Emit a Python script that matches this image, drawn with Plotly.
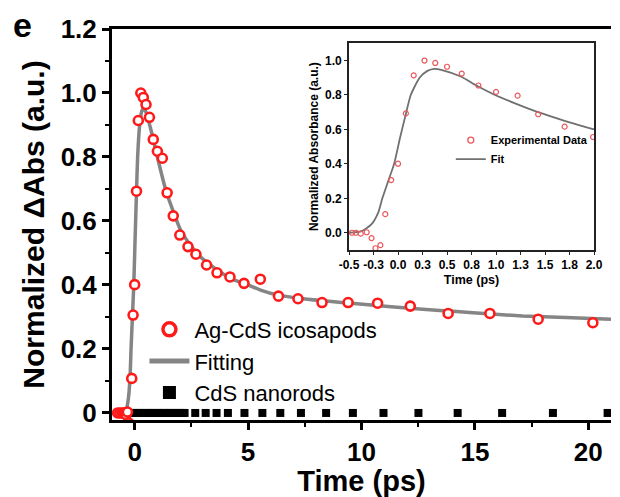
import plotly.graph_objects as go

# ---------------- data ----------------
t_ag = [-0.75, -0.65, -0.55, -0.47, -0.43, -0.38, -0.32, -0.27, -0.23, -0.18,
        -0.13, -0.07, 0.0, 0.08, 0.16, 0.27, 0.38, 0.50, 0.65, 0.82,
        1.00, 1.22, 1.43, 1.70, 1.99, 2.35, 2.70, 3.17, 3.63, 4.20,
        4.82, 5.54, 6.34, 7.20, 8.26, 9.41, 10.71, 12.15, 13.82, 15.66,
        17.79, 20.20]
v_ag = [0.0, 0.0, 0.0, 0.0, 0.0, -0.005, 0.003, -0.031, -0.09, -0.072,
        0.108, 0.306, 0.401, 0.693, 0.914, 1.0, 0.986, 0.964, 0.924, 0.855,
        0.818, 0.796, 0.688, 0.616, 0.556, 0.52, 0.496, 0.4625, 0.438, 0.425,
        0.405, 0.418, 0.365, 0.357, 0.345, 0.345, 0.343, 0.334, 0.311, 0.311,
        0.293, 0.282]

fit_main_t = [-1.0, -0.5, -0.37, -0.27, -0.2, -0.16, -0.1, -0.04, 0.02, 0.08,
              0.13, 0.22, 0.3, 0.38, 0.5, 0.79, 1.0, 1.37, 1.7, 2.02,
              2.4, 2.81, 3.54, 4.26, 5.0, 5.55, 6.28, 7.3, 8.44, 9.8,
              11.3, 12.7, 14.2, 15.6, 17.1, 19.0, 21.0]
fit_main_v = [0.0, 0.0, 0.01, 0.05, 0.12, 0.2, 0.3, 0.4, 0.55, 0.69,
              0.8, 0.9, 0.94, 0.952, 0.94, 0.864, 0.80, 0.697, 0.63, 0.572,
              0.53, 0.494, 0.452, 0.42, 0.40, 0.384, 0.369, 0.358, 0.35, 0.341,
              0.332, 0.324, 0.317, 0.31, 0.303, 0.298, 0.293]

fit_in_t = [-0.5, -0.37, -0.27, -0.2, -0.16, -0.1, -0.04, 0.02, 0.08, 0.13,
            0.22, 0.3, 0.37, 0.45, 0.64, 0.8, 0.99, 1.2, 1.43, 1.7, 2.0]
fit_in_v = [0.0, 0.01, 0.05, 0.12, 0.2, 0.3, 0.4, 0.55, 0.69, 0.8,
            0.9, 0.94, 0.952, 0.945, 0.907, 0.855, 0.80, 0.75, 0.70, 0.65, 0.60]

t_cds = [-0.5, -0.4, -0.3, -0.2, -0.1, 0.0, 0.1, 0.2, 0.3, 0.4, 0.5, 0.6, 0.7,
         0.8, 0.9, 1.0, 1.1, 1.2, 1.3, 1.4, 1.5, 1.6, 1.7, 1.8, 1.9, 2.0, 2.1,
         2.2, 2.67, 3.13, 3.61, 4.11, 4.84, 5.63, 6.42, 7.33, 8.44, 9.62,
         10.97, 12.51, 14.24, 16.2, 18.44, 20.85]
v_cds = [0.0] * len(t_cds)

main_xticks = [0, 5, 10, 15, 20]
main_xminor = [2.5, 7.5, 12.5, 17.5]
main_yticks = [0, 0.2, 0.4, 0.6, 0.8, 1.0, 1.2]
main_yticktext = ["0", "0.2", "0.4", "0.6", "0.8", "1.0", "1.2"]
main_yminor = [0.1, 0.3, 0.5, 0.7, 0.9, 1.1]

in_xticks = [-0.5, -0.25, 0.0, 0.25, 0.5, 0.75, 1.0, 1.25, 1.5, 1.75, 2.0]
in_xticktext = ["-0.5", "-0.3", "0.0", "0.3", "0.5", "0.8", "1.0", "1.3", "1.5", "1.8", "2.0"]
in_yticks = [0.0, 0.2, 0.4, 0.6, 0.8, 1.0]
in_yticktext = ["0.0", "0.2", "0.4", "0.6", "0.8", "1.0"]

# ---------------- styles ----------------
FONT = "Liberation Sans, Arial, sans-serif"
RED = "#ff1a1a"
RED_IN = "#e8585c"
GRAY = "#858585"

fig = go.Figure()

# main plot traces
fig.add_trace(go.Scatter(x=t_cds, y=v_cds, mode="markers", showlegend=False,
                         marker=dict(symbol="square", size=8, color="black"),
                         xaxis="x", yaxis="y"))
fig.add_trace(go.Scatter(x=fit_main_t, y=fit_main_v, mode="lines", showlegend=False,
                         line=dict(color=GRAY, width=3.5, shape="spline", smoothing=0.6),
                         xaxis="x", yaxis="y"))
fig.add_trace(go.Scatter(x=t_ag, y=v_ag, mode="markers", showlegend=False,
                         marker=dict(symbol="circle", size=9, color="white",
                                     line=dict(color=RED, width=2.6)),
                         xaxis="x", yaxis="y"))

# legend proxies (main)
fig.add_trace(go.Scatter(x=[None], y=[None], mode="markers", name="Ag-CdS icosapods",
                         marker=dict(symbol="circle", size=13, color="white",
                                     line=dict(color=RED, width=3.5)),
                         legend="legend"))
fig.add_trace(go.Scatter(x=[None], y=[None], mode="lines", name="Fitting",
                         line=dict(color=GRAY, width=5), legend="legend"))
fig.add_trace(go.Scatter(x=[None], y=[None], mode="markers", name="CdS nanorods",
                         marker=dict(symbol="square", size=13, color="black"),
                         legend="legend"))

# inset traces
fig.add_trace(go.Scatter(x=fit_in_t, y=fit_in_v, mode="lines", showlegend=False,
                         line=dict(color="#707070", width=1.8, shape="spline", smoothing=0.6),
                         xaxis="x2", yaxis="y2"))
fig.add_trace(go.Scatter(x=t_ag, y=v_ag, mode="markers", showlegend=False,
                         marker=dict(symbol="circle", size=5, color="rgba(255,255,255,0)",
                                     line=dict(color=RED_IN, width=1.2)),
                         xaxis="x2", yaxis="y2"))
fig.add_trace(go.Scatter(x=[None], y=[None], mode="markers", name="Experimental Data",
                         marker=dict(symbol="circle", size=6, color="rgba(255,255,255,0)",
                                     line=dict(color=RED_IN, width=1.3)),
                         xaxis="x2", yaxis="y2", legend="legend2"))
fig.add_trace(go.Scatter(x=[None], y=[None], mode="lines", name="Fit",
                         line=dict(color="#707070", width=1.8),
                         xaxis="x2", yaxis="y2", legend="legend2"))

bold = dict(family=FONT, color="black", weight="bold")

fig.update_layout(
    width=620, height=497,
    margin=dict(l=112, r=0, t=29, b=77),
    paper_bgcolor="white", plot_bgcolor="white",
    font=dict(family=FONT, color="black"),
    xaxis=dict(
        domain=[0, 1], range=[-1.0, 21.0],
        showline=True, linecolor="black", linewidth=3, mirror=True,
        showgrid=False, zeroline=False,
        tickmode="array", tickvals=main_xticks,
        ticks="outside", ticklen=7, tickwidth=3, tickcolor="black",
        minor=dict(tickmode="array", tickvals=main_xminor, ticks="outside",
                   ticklen=4, tickwidth=2, tickcolor="black"),
        tickfont=dict(size=26, **bold),
        title=dict(text="Time (ps)", font=dict(size=29, **bold), standoff=9),
    ),
    yaxis=dict(
        domain=[0, 1], range=[-0.022, 1.2],
        showline=True, linecolor="black", linewidth=3, mirror=False,
        showgrid=False, zeroline=False,
        tickmode="array", tickvals=main_yticks, ticktext=main_yticktext,
        ticks="outside", ticklen=7, tickwidth=3, tickcolor="black",
        minor=dict(tickmode="array", tickvals=main_yminor, ticks="outside",
                   ticklen=4, tickwidth=2, tickcolor="black"),
        tickfont=dict(size=26, **bold),
        title=dict(text="Normalized ΔAbs (a.u.)", font=dict(size=30, **bold), standoff=8),
    ),
    xaxis2=dict(
        domain=[0.475, 0.966], anchor="y2", range=[-0.5, 2.0],
        showline=True, linecolor="#222222", linewidth=1.8, mirror=True,
        showgrid=False, zeroline=False,
        tickmode="array", tickvals=in_xticks, ticktext=in_xticktext,
        ticks="outside", ticklen=3, tickwidth=1.2, tickcolor="#222222",
        tickfont=dict(size=12, **bold),
        title=dict(text="Time (ps)", font=dict(size=12.5, **bold), standoff=4),
    ),
    yaxis2=dict(
        domain=[0.4348, 0.9634], anchor="x2", range=[-0.1, 1.1],
        showline=True, linecolor="#222222", linewidth=1.8, mirror=True,
        showgrid=False, zeroline=False,
        tickmode="array", tickvals=in_yticks, ticktext=in_yticktext,
        ticks="outside", ticklen=3, tickwidth=1.2, tickcolor="#222222",
        tickfont=dict(size=12, **bold),
        title=dict(text="Normalized Absorbance (a.u.)", font=dict(size=12, **bold), standoff=4),
    ),
    legend=dict(
        x=0.065, y=0.285, xanchor="left", yanchor="top",
        bgcolor="rgba(0,0,0,0)", borderwidth=0,
        font=dict(family=FONT, size=22, color="black"),
        itemsizing="trace", tracegroupgap=0, itemwidth=40,
    ),
    legend2=dict(
        x=0.679, y=0.753, xanchor="left", yanchor="top",
        bgcolor="rgba(0,0,0,0)", borderwidth=0,
        font=dict(family=FONT, size=11, color="black", weight="bold"),
        itemsizing="trace", tracegroupgap=0,
    ),
    annotations=[dict(text="e", xref="paper", yref="paper",
                      x=-0.179, y=1.01, xanchor="center", yanchor="middle",
                      showarrow=False, font=dict(size=34, **bold))],
)

fig.write_html("out.html", config={"displayModeBar": False},
               post_script="document.body.style.margin='0';document.body.style.overflow='hidden';")
